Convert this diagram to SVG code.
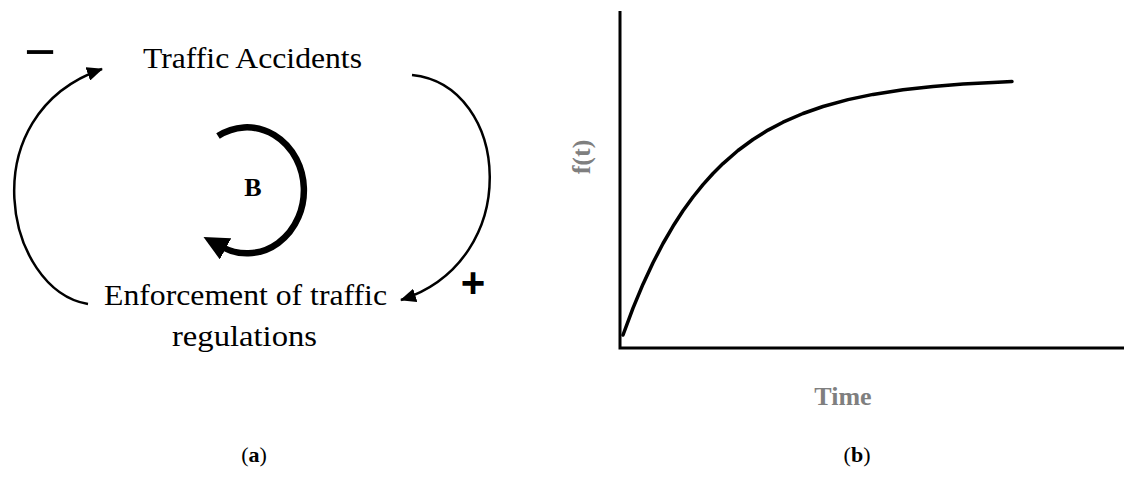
<svg xmlns="http://www.w3.org/2000/svg" width="1124" height="480" viewBox="0 0 1124 480">
<style>
.lbl{font-family:"Liberation Serif","Times New Roman",serif;font-size:30px;fill:#000}
.conn{fill:none;stroke:#000;stroke-width:2.5}
.ax{fill:none;stroke:#000;stroke-width:3}
.gray{font-family:"Liberation Serif","Times New Roman",serif;font-size:26px;font-weight:bold;fill:#7f7f7f}
.cap{font-family:"Liberation Serif","Times New Roman",serif;font-size:22px;fill:#000}
.sign{font-family:"Liberation Sans",Arial,sans-serif;fill:#000}
</style>
<defs>
<marker id="ah" markerUnits="userSpaceOnUse" markerWidth="16" markerHeight="14" refX="15" refY="7" orient="auto">
<path d="M0,0 L16,7 L0,14 z" fill="#000"/>
</marker>
<marker id="ahB" markerUnits="userSpaceOnUse" markerWidth="25" markerHeight="24" refX="4" refY="12" orient="auto">
<path d="M0,0 L25,12 L0,24 z" fill="#000"/>
</marker>
</defs>
<rect width="1124" height="480" fill="#fff"/>

<g id="node-traffic-accidents">
<text class="lbl" x="143" y="68" textLength="219" lengthAdjust="spacingAndGlyphs">Traffic Accidents</text>
</g>
<g id="node-enforcement">
<text class="lbl" x="104" y="305" textLength="283" lengthAdjust="spacingAndGlyphs">Enforcement of traffic</text>
<text class="lbl" x="172" y="346" textLength="145" lengthAdjust="spacingAndGlyphs">regulations</text>
</g>
<g id="loop-B">
<path d="M 218 136 A 57 63 0 1 1 222 247" fill="none" stroke="#000" stroke-width="6.5" marker-end="url(#ahB)"/>
<text x="253" y="196" text-anchor="middle" style="font-family:'Liberation Serif',serif;font-size:26px;font-weight:bold">B</text>
</g>

<g id="connectors">
<path class="conn" d="M 88 304 C 5 290, -30 115, 102 69" marker-end="url(#ah)"/>
<path class="conn" d="M 412 75 C 510 85, 525 260, 401 300" marker-end="url(#ah)"/>
<text class="sign" x="40" y="70" text-anchor="middle" font-size="54">−</text>
<text class="sign" x="473" y="297" text-anchor="middle" font-size="42" font-weight="bold">+</text>
</g>

<g id="chart">
<polyline class="ax" points="620,11 620,348 1124,348"/>
<polyline fill="none" stroke="#000" stroke-width="3.5" stroke-linecap="round" stroke-linejoin="round" points="623,335 633,308.2 643,284.2 653,262.8 663,243.5 673,226.3 683,210.8 693,197 703,184.6 713,173.5 723,163.6 738,150.5 753,139.5 768,130.1 783,122.2 803,113.5 823,106.5 848,99.6 873,94.4 903,89.8 933,86.5 963,84.1 993,82.4 1012,81.5"/>
<text class="gray" transform="translate(590,157) rotate(-90)" text-anchor="middle">f(t)</text>
<text class="gray" x="843" y="405" text-anchor="middle">Time</text>
</g>

<g id="captions">
<text class="cap" x="254" y="462" text-anchor="middle">(<tspan font-weight="bold">a</tspan>)</text>
<text class="cap" x="857" y="462" text-anchor="middle">(<tspan font-weight="bold">b</tspan>)</text>
</g>
</svg>
